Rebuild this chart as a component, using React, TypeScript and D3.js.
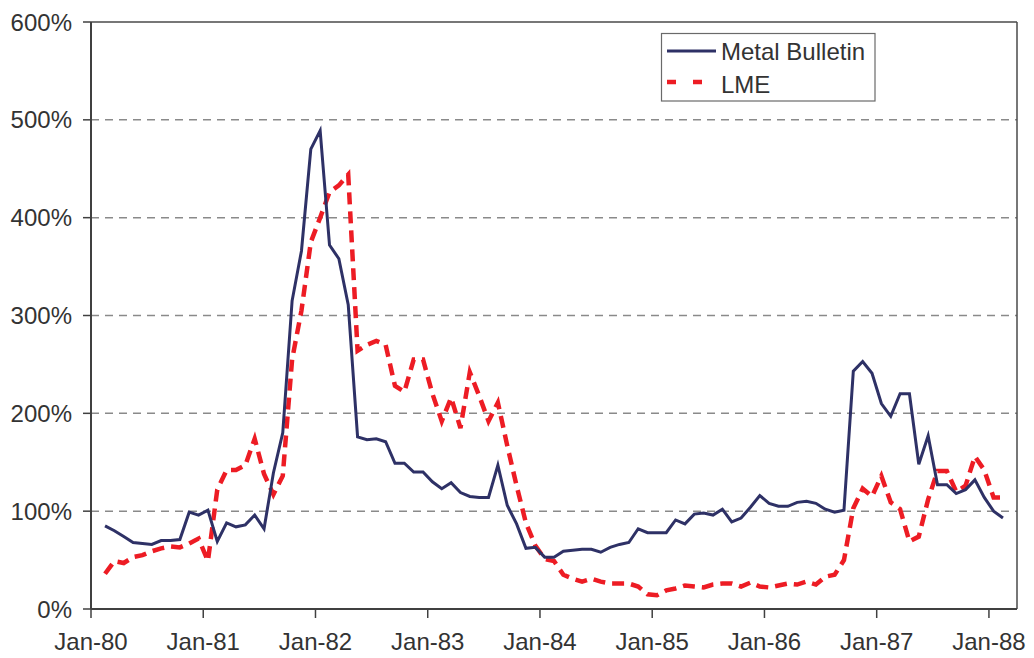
import React from "react";
import * as d3 from "d3";

// Monthly series, Feb-80 .. Feb-88 (percent)
const metalBulletin = [
  85, 80, 74, 68, 67, 66, 70, 70, 71, 99, 96,
  101, 69, 88, 84, 86, 96, 82, 139, 180, 315, 366, 470,
  489, 372, 358, 311, 176, 173, 174, 171, 149, 149, 140, 140,
  130, 123, 129, 119, 115, 114, 114, 147, 106, 87, 62, 63,
  53, 53, 59, 60, 61, 61, 58, 63, 66, 68, 82, 78,
  78, 78, 91, 87, 97, 98, 96, 102, 89, 93, 104, 116,
  108, 105, 105, 109, 110, 108, 102, 99, 101, 243, 253, 241,
  210, 197, 220, 220, 148, 177, 127, 127, 118, 122, 132, 114,
  100, 93,
];
const lme = [
  36, 49, 47, 53, 55, 59, 62, 64, 63, 67, 72,
  49, 122, 142, 142, 147, 174, 138, 117, 136, 255, 305, 375,
  400, 426, 433, 444, 264, 270, 274, 270, 228, 222, 255, 255,
  220, 192, 216, 185, 242, 218, 192, 211, 167, 126, 88, 65,
  51, 49, 35, 31, 28, 31, 28, 26, 26, 26, 23, 15,
  14, 19, 21, 24, 23, 22, 25, 26, 26, 23, 27, 23,
  22, 24, 26, 25, 28, 25, 33, 35, 50, 103, 123, 115,
  136, 109, 102, 69, 74, 112, 141, 141, 120, 126, 156, 142,
  114, 114,
];
const seriesNames = ["Metal Bulletin", "LME"];
const yTicks = [0, 100, 200, 300, 400, 500, 600];
const xTickYears = [80, 81, 82, 83, 84, 85, 86, 87, 88];
const monthCount = 99; // Jan-80 .. Mar-88 categories
const firstDataMonth = 1; // Feb-80

const W = 1034;
const H = 658;
const L = 91;
const R = 1017;
const T = 22;
const B = 609;

export default function App() {
  const months = d3.range(monthCount);
  const x = d3.scaleBand<number>().domain(months).range([L, R]).paddingInner(0).paddingOuter(0);
  const y = d3.scaleLinear().domain([0, 600]).range([B, T]);
  const cx = (m: number) => (x(m) as number) + x.bandwidth() / 2;

  const line = d3
    .line<number>()
    .x((_, i) => cx(i + firstDataMonth))
    .y((d) => y(d));

  const font = "'Liberation Sans', Arial, Helvetica, sans-serif";
  const textColor = "#333333";

  return (
    <svg
      width={W}
      height={H}
      style={{ position: "absolute", left: 0, top: 0, background: "#fff" }}
      fontFamily={font}
    >
      {/* grid */}
      {yTicks
        .filter((t) => t > 0 && t < 600)
        .map((t) => (
          <line
            key={"g" + t}
            x1={L}
            x2={R}
            y1={y(t)}
            y2={y(t)}
            stroke="#8a8a8a"
            strokeWidth={1.5}
            strokeDasharray="8,6"
          />
        ))}
      {/* plot border */}
      <line x1={L} x2={R} y1={T} y2={T} stroke="#4a4a4a" strokeWidth={1.5} />
      <line x1={R} x2={R} y1={T} y2={B} stroke="#4a4a4a" strokeWidth={1.5} />
      {/* axes */}
      <line x1={L} x2={L} y1={T} y2={B} stroke="#404040" strokeWidth={2} />
      <line x1={L} x2={R} y1={B} y2={B} stroke="#404040" strokeWidth={2} />
      {yTicks.map((t) => (
        <g key={"y" + t}>
          <line x1={L - 8} x2={L} y1={y(t)} y2={y(t)} stroke="#404040" strokeWidth={1.5} />
          <text
            x={72}
            y={y(t)}
            dy="0.36em"
            textAnchor="end"
            fontSize={24}
            fill={textColor}
          >
            {t + "%"}
          </text>
        </g>
      ))}
      {xTickYears.map((yr, i) => {
        const m = i * 12;
        const px = x(m) as number;
        return (
          <g key={"x" + yr}>
            <line x1={px} x2={px} y1={B} y2={B + 9} stroke="#404040" strokeWidth={1.5} />
            <text x={px} y={650} textAnchor="middle" fontSize={24} fill={textColor}>
              {"Jan-" + yr}
            </text>
          </g>
        );
      })}
      {/* series */}
      <path
        d={line(lme) as string}
        fill="none"
        stroke="#ED1C24"
        strokeWidth={4.5}
        strokeDasharray="12,7"
      />
      <path
        d={line(metalBulletin) as string}
        fill="none"
        stroke="#2E3166"
        strokeWidth={3}
        strokeLinejoin="miter"
      />
      {/* legend */}
      <rect x={661.5} y={33.5} width={213.5} height={67.5} fill="#fff" stroke="#6a6a6a" strokeWidth={1.2} />
      <line x1={667} x2={716} y1={51} y2={51} stroke="#2E3166" strokeWidth={3} />
      <text x={721} y={59.5} fontSize={24} fill={textColor}>
        {seriesNames[0]}
      </text>
      <line x1={667} x2={716} y1={82} y2={82} stroke="#ED1C24" strokeWidth={4.5} strokeDasharray="9,17" />
      <text x={721} y={92.5} fontSize={24} fill={textColor}>
        {seriesNames[1]}
      </text>
    </svg>
  );
}
